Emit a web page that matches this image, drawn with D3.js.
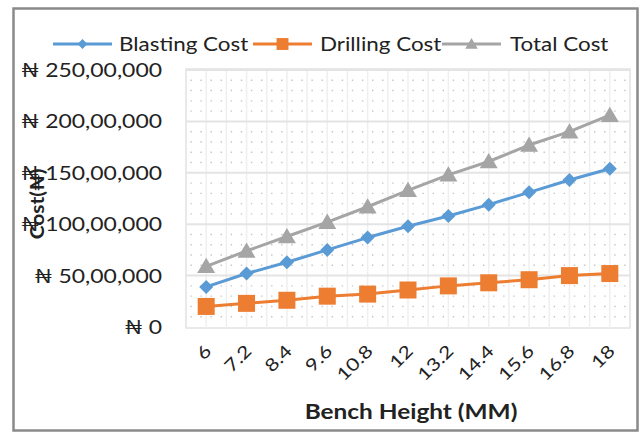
<!DOCTYPE html>
<html>
<head>
<meta charset="utf-8">
<script src="https://cdn.jsdelivr.net/npm/d3@7"></script>
<style>
  html, body { margin: 0; padding: 0; background: #fff; }
  svg { display: block; }
  text { font-family: Lato, "Open Sans", "DejaVu Sans", sans-serif; fill: #222; }
</style>
</head>
<body>
<svg id="chart" width="643" height="434"></svg>
<script>
// Bench height categories (MM)
const benchHeights = ["6", "7.2", "8.4", "9.6", "10.8", "12", "13.2", "14.4", "15.6", "16.8", "18"];

// Costs in naira
const blastingCost = [3900000, 5200000, 6300000, 7500000, 8700000, 9800000, 10800000, 11900000, 13100000, 14300000, 15400000];
const drillingCost = [2000000, 2300000, 2600000, 3000000, 3200000, 3600000, 4000000, 4300000, 4600000, 5000000, 5200000];
const totalCost    = [5900000, 7400000, 8800000, 10200000, 11700000, 13300000, 14800000, 16100000, 17700000, 19000000, 20600000];

// Value axis ticks and their labels
const yTicks = [0, 5000000, 10000000, 15000000, 20000000, 25000000];
const yTickLabels = ["₦ 0", "₦ 50,00,000", "₦ 100,00,000", "₦ 150,00,000", "₦ 200,00,000", "₦ 250,00,000"];

const seriesNames = ["Blasting Cost", "Drilling Cost", "Total Cost"];
const seriesColors = ["#5B9BD5", "#ED7D31", "#A5A5A5"];
const seriesMarkers = ["diamond", "square", "triangle"];
const seriesValues = [blastingCost, drillingCost, totalCost];

// The chart's type is set wide, so text is stretched horizontally
const wide = 1.22;

const svg = d3.select("#chart");

// Chart area frame
svg.append("rect")
  .attr("x", 13.5).attr("y", 8.5).attr("width", 624).attr("height", 422)
  .attr("fill", "#fff").attr("stroke", "#8a8a8a").attr("stroke-width", 2.5);

const plot = { left: 186, right: 630, top: 69, bottom: 328 };

const x = d3.scaleBand().domain(benchHeights).range([plot.left, plot.right]);
const y = d3.scaleLinear().domain([0, 25000000]).range([327, 70]);
const cx = d => x(d) + x.bandwidth() / 2;

// Plot area
const g = svg.append("g");
g.append("rect")
  .attr("x", plot.left).attr("y", plot.top)
  .attr("width", plot.right - plot.left).attr("height", plot.bottom - plot.top)
  .attr("fill", "#fff").attr("stroke", "#e2e2e2").attr("stroke-width", 1.5);

// Faint vertical lines every half category
const halfBand = x.bandwidth() / 2;
const vLines = d3.range(1, benchHeights.length * 2).map(i => plot.left + i * halfBand);
g.selectAll("line.vgrid").data(vLines).join("line")
  .attr("class", "vgrid")
  .attr("x1", d => d).attr("x2", d => d)
  .attr("y1", plot.top).attr("y2", plot.bottom)
  .attr("stroke", "#efefef").attr("stroke-width", 1.5);

// Dotted minor grid every 10,00,000
const minorTicks = d3.range(1000000, 25000001, 1000000).filter(v => v % 5000000 !== 0);
const quarter = x.bandwidth() / 4;
g.selectAll("line.minor").data(minorTicks).join("line")
  .attr("class", "minor")
  .attr("x1", plot.left + quarter / 2 - 0.7).attr("x2", plot.right)
  .attr("y1", d => y(d)).attr("y2", d => y(d))
  .attr("stroke", "#c4c4c4").attr("stroke-width", 1.4)
  .attr("stroke-dasharray", `1.4,${quarter - 1.4}`);

// Major horizontal gridlines
g.selectAll("line.major").data(yTicks.slice(1)).join("line")
  .attr("class", "major")
  .attr("x1", plot.left).attr("x2", plot.right)
  .attr("y1", d => y(d)).attr("y2", d => y(d))
  .attr("stroke", "#e4e4e4").attr("stroke-width", 2);

// Value axis labels
const yAxis = d3.axisLeft(y).tickValues(yTicks)
  .tickFormat((d, i) => yTickLabels[i]).tickSize(0).tickPadding(0);
const yAxisG = svg.append("g").attr("transform", "translate(162,0)").call(yAxis);
yAxisG.select(".domain").remove();
yAxisG.selectAll("text")
  .attr("x", 0).attr("dy", "0.35em")
  .attr("transform", "scale(1.24,1)")
  .style("font-size", "18.5px").attr("fill", "#222");

// Category axis labels, rotated
const xAxis = d3.axisBottom(x).tickSize(0).tickPadding(0);
const xAxisG = svg.append("g").call(xAxis);
xAxisG.select(".domain").remove();
xAxisG.selectAll(".tick").attr("transform", d => `translate(${cx(d) - 3},${343})`);
xAxisG.selectAll("text")
  .attr("y", 0).attr("dy", "0.75em")
  .attr("text-anchor", "end")
  .attr("transform", `rotate(-45) scale(${wide},1)`)
  .style("font-size", "17.5px").attr("fill", "#222");

// Axis titles
svg.append("text")
  .attr("transform", `translate(411,419) scale(${wide},1)`)
  .attr("text-anchor", "middle")
  .style("font-size", "20px").style("font-weight", "bold")
  .text("Bench Height (MM)");

svg.append("text")
  .attr("transform", "translate(44,204) rotate(-90) scale(1.1,1)")
  .attr("text-anchor", "middle")
  .style("font-size", "19px").style("font-weight", "bold")
  .text("Cost(₦)");

// Marker shapes
function markerPath(type, size) {
  const s = size / 2;
  if (type === "diamond") return `M0,${-s}L${s},0L0,${s}L${-s},0Z`;
  if (type === "square") return `M${-s},${-s}H${s}V${s}H${-s}Z`;
  return `M0,${-s * 0.95}L${s},${s * 0.75}L${-s},${s * 0.75}Z`;
}
const markerSizes = { diamond: 14, square: 17, triangle: 18 };

// Series lines and markers
const line = d3.line().x((d, i) => cx(benchHeights[i])).y(d => y(d));
seriesValues.forEach((vals, k) => {
  const sg = svg.append("g");
  sg.append("path").datum(vals)
    .attr("d", line).attr("fill", "none")
    .attr("stroke", seriesColors[k]).attr("stroke-width", 3)
    .attr("stroke-linejoin", "round");
  sg.selectAll("path.mk").data(vals).join("path")
    .attr("class", "mk")
    .attr("transform", (d, i) => `translate(${cx(benchHeights[i])},${y(d)})`)
    .attr("d", markerPath(seriesMarkers[k], markerSizes[seriesMarkers[k]]))
    .attr("fill", seriesColors[k]);
});

// Legend
const legendItems = [
  { lineX: 53, textX: 119 },
  { lineX: 253, textX: 320 },
  { lineX: 442, textX: 510 }
];
const legendY = 44;
legendItems.forEach((it, k) => {
  const lg = svg.append("g");
  lg.append("line")
    .attr("x1", it.lineX).attr("x2", it.lineX + 59)
    .attr("y1", legendY).attr("y2", legendY)
    .attr("stroke", seriesColors[k]).attr("stroke-width", 3);
  lg.append("path")
    .attr("transform", `translate(${it.lineX + 29.5},${legendY})`)
    .attr("d", markerPath(seriesMarkers[k], markerSizes[seriesMarkers[k]] * 0.7))
    .attr("fill", seriesColors[k]);
  lg.append("text")
    .attr("transform", `translate(${it.textX},${legendY}) scale(1.18,1)`)
    .attr("dy", "0.35em")
    .style("font-size", "19px")
    .text(seriesNames[k]);
});
</script>
</body>
</html>
